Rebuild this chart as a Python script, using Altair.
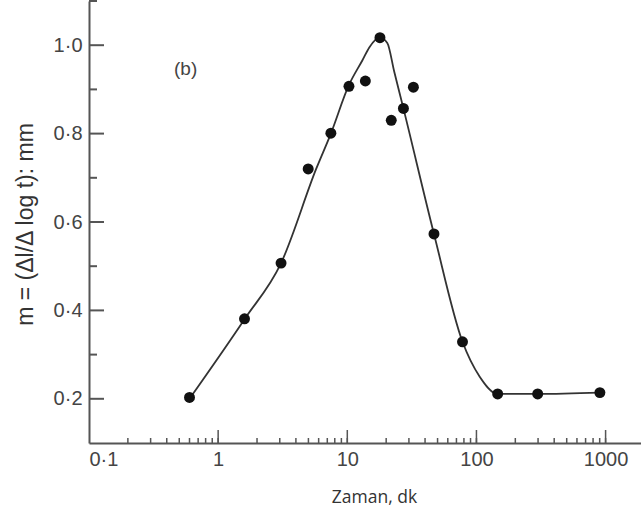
import altair as alt
import pandas as pd

# measured points (time in minutes, m in mm)
t_points = [0.60, 1.60, 3.07, 4.98, 7.46, 10.3, 13.8, 17.9, 21.9, 27.2, 32.5, 46.9, 78, 146, 298, 903]
m_points = [0.203, 0.381, 0.507, 0.72, 0.801, 0.907, 0.919, 1.017, 0.83, 0.857, 0.905, 0.573, 0.329, 0.211, 0.211, 0.214]

# smooth fitted curve
t_curve = [0.60, 1.60, 3.07, 5.74, 7.46, 10.3, 13.1, 14.8, 17.9, 20.4, 23.1, 27.2, 46.9, 78, 106, 146, 298, 903]
m_curve = [0.20, 0.38, 0.507, 0.72, 0.80, 0.91, 0.966, 0.995, 1.017, 1.005, 0.94, 0.857, 0.573, 0.329, 0.25, 0.211, 0.211, 0.214]

x_major = [0.1, 1, 10, 100, 1000]
x_minor_ticks = [b * k for b in [0.1, 1, 10, 100] for k in range(2, 10)] + [1, 10, 100, 1000]
y_major = [0.2, 0.4, 0.6, 0.8, 1.0]
y_minor = [0.3, 0.5, 0.7, 0.9, 1.1]

panel_label = ["(b)"]
panel_t = [0.56]
panel_m = [0.946]

W, H = 552, 442
FONT = "Liberation Sans"
GREY = "#444444"

xscale = alt.Scale(type="log", domain=[0.1, 1880], nice=False)
yscale = alt.Scale(domain=[0.1, 1.1], nice=False, zero=False)

x_axis = alt.Axis(
    values=x_major, labelExpr="replace(format(datum.value, '~g'), '.', '·')",
    ticks=False, grid=False, domainColor="#555555", domainWidth=2,
    labelFont=FONT, labelFontSize=20, labelColor=GREY, labelPadding=6,
    title="Zaman, dk", titleFont="Open Sans", titleFontSize=17.5, titleFontWeight="normal",
    titleColor="#333333", titleX=285, titleY=54, titleBaseline="middle", titleAnchor="start",
    titleAlign="center")
y_axis = alt.Axis(
    values=y_major, labelExpr="replace(format(datum.value, '.1f'), '.', '·')",
    ticks=False, grid=False, domainColor="#555555", domainWidth=2,
    labelFont=FONT, labelFontSize=20, labelColor=GREY, labelPadding=7,
    title="m = (Δl/Δ log t): mm", titleFont=FONT, titleFontSize=23, titleFontWeight="normal",
    titleColor="#333333", titleX=-64, titleY=H / 2 + 2, titleAngle=-90, titleBaseline="middle",
    titleAlign="center", titleAnchor="start")

X = lambda f: alt.X(f, scale=xscale, axis=x_axis)
Y = lambda f: alt.Y(f, scale=yscale, axis=y_axis)

pts = pd.DataFrame({"t": t_points, "m": m_points})
crv = pd.DataFrame({"t": t_curve, "m": m_curve})

line = alt.Chart(crv).mark_line(color="#333333", strokeWidth=1.8, interpolate="monotone").encode(
    x=X("t:Q"), y=Y("m:Q"), order="t:Q")

dots = alt.Chart(pts).mark_circle(size=120, color="#111111", opacity=1).encode(
    x=X("t:Q"), y=Y("m:Q"))

ymaj = alt.Chart(pd.DataFrame({"m": y_major})).mark_rule(color="#555555", strokeWidth=2).encode(
    y=Y("m:Q"), x=alt.value(0), x2=alt.value(15))
ymin = alt.Chart(pd.DataFrame({"m": y_minor})).mark_rule(color="#555555", strokeWidth=2).encode(
    y=Y("m:Q"), x=alt.value(0), x2=alt.value(8))
xmaj = alt.Chart(pd.DataFrame({"t": x_major[1:]})).mark_rule(color="#555555", strokeWidth=1.5).encode(
    x=X("t:Q"), y=alt.value(H), y2=alt.value(H - 13))
xmin = alt.Chart(pd.DataFrame({"t": x_minor_ticks})).mark_rule(color="#555555", strokeWidth=1.5).encode(
    x=X("t:Q"), y=alt.value(H), y2=alt.value(H - 5))

label = alt.Chart(pd.DataFrame({"t": panel_t, "m": panel_m, "s": panel_label})).mark_text(
    font=FONT, fontSize=19, color=GREY, align="center", baseline="middle").encode(
    x=X("t:Q"), y=Y("m:Q"), text="s:N")

chart = alt.layer(line, ymaj, ymin, xmaj, xmin, dots, label).properties(
    width=W, height=H,
    autosize=alt.AutoSizeParams(type="none"),
    padding={"left": 89, "top": 1, "right": 0, "bottom": 67},
    background="white",
).configure_view(stroke=None)

chart.save("out.html", embed_options={"renderer": "svg", "actions": False})
